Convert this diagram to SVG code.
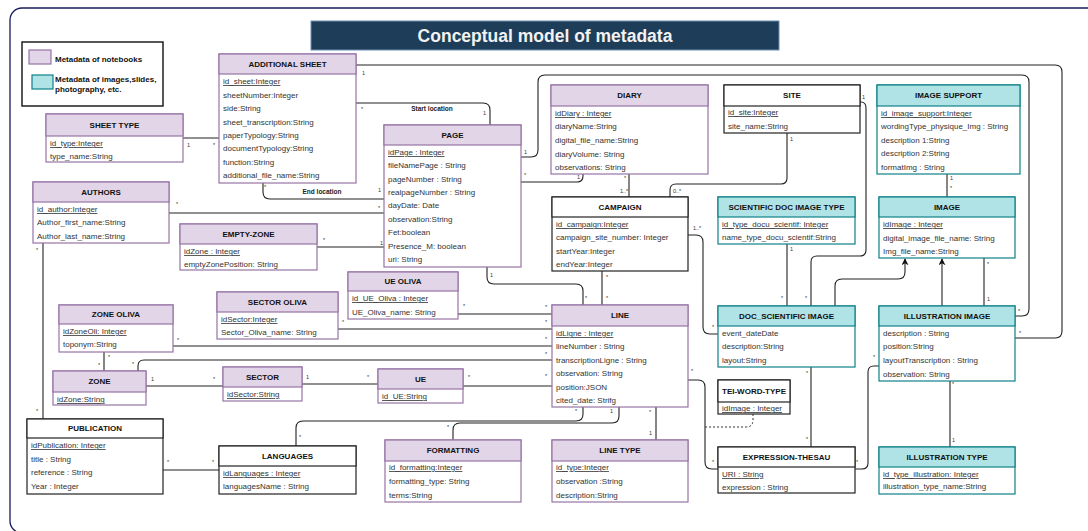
<svg xmlns="http://www.w3.org/2000/svg" width="1088" height="531" viewBox="0 0 1088 531">
<style>
text{font-family:"Liberation Sans",Arial,sans-serif;}
.h{font-size:8px;font-weight:bold;fill:#111;text-anchor:middle;}
.a{font-size:8px;fill:#333;}
.u{text-decoration:underline;}
.m{font-size:5.5px;fill:#333;}
.el{font-size:6.5px;font-weight:bold;fill:#222;text-anchor:middle;}
.pb{fill:#fff;stroke:#9673a6;stroke-width:1.2;}
.ph{fill:#e1d5e7;stroke:#9673a6;stroke-width:1.2;}
.cb{fill:#fff;stroke:#0e8088;stroke-width:1.2;}
.ch{fill:#b0e3e6;stroke:#0e8088;stroke-width:1.2;}
.wb{fill:#fff;stroke:#222;stroke-width:1.2;}
.wh{fill:#fff;stroke:#222;stroke-width:1.2;}
.c{fill:none;stroke:#222;stroke-width:1.1;}
.d{fill:none;stroke:#333;stroke-width:1;stroke-dasharray:2,2;}
</style>
<defs>
<marker id="arr" viewBox="0 0 10 10" refX="9" refY="5" markerWidth="7" markerHeight="7" markerUnits="userSpaceOnUse" orient="auto">
<path d="M0,0 L10,5 L0,10 L3,5 z" fill="#111"/>
</marker>
</defs>
<rect x="0" y="0" width="1088" height="531" fill="#fff"/>
<rect x="10" y="8" width="1092" height="525" rx="12" fill="none" stroke="#1a1a5e" stroke-width="1.3"/>
<g id="title">
<rect x="311" y="21" width="468" height="29" fill="#1e3d59" stroke="#6f8fb3" stroke-width="1"/>
<text x="545" y="42" style="font-size:17.5px;font-weight:bold;fill:#f2f2f2;text-anchor:middle">Conceptual model of metadata</text>
</g>
<g id="legend">
<rect x="22" y="42" width="141" height="64" fill="#fff" stroke="#111" stroke-width="1.4"/>
<rect x="29" y="50" width="22" height="14" class="ph"/>
<text x="55" y="62" style="font-size:8px;font-weight:bold;fill:#111">Metadata of notebooks</text>
<rect x="32" y="75" width="21" height="14" class="ch"/>
<text x="55" y="82" style="font-size:8px;font-weight:bold;fill:#111">Metadata of images,slides,</text>
<text x="55" y="92" style="font-size:8px;font-weight:bold;fill:#111">photography, etc.</text>
</g>

<g id="connectors">
<path class="c" d="M183,138 H219"/>
<path class="c" d="M356,65 H1055 Q1062,65 1062,72 V331 Q1062,338 1055,338 H1015"/>
<path class="c" d="M521,157 H531 Q538,157 538,150 V82 Q538,75 545,75 H1022 Q1029,75 1029,82 V309 Q1029,316 1022,316 H1015"/>
<path class="c" d="M356,103 H483 Q490,103 490,110 V125"/>
<path class="c" d="M263,183 V192 Q263,199 270,199 H384"/>
<path class="c" d="M169,213 H384"/>
<path class="c" d="M317,247 H384"/>
<path class="c" d="M583,174 V176 Q583,182 577,182 H521"/>
<path class="c" d="M629,174 V197"/>
<path class="c" d="M787,133 V178 Q787,184 781,184 H676 Q670,184 670,190 V197"/>
<path class="c" d="M860,102 H861 Q866,102 866,108 V250 Q866,256 860,256 H817 Q811,256 811,262 V306"/>
<path class="c" d="M787,244 V306"/>
<path class="c" d="M835,306 V286 Q835,279 842,279 H898 Q905,279 905,272 V259" marker-end="url(#arr)"/>
<path class="c" d="M942,306 V259" marker-end="url(#arr)"/>
<path class="c" d="M984,258 V306"/>
<path class="c" d="M947,174 V197"/>
<path class="c" d="M602,271 V305"/>
<path class="c" d="M487,267 V277 Q487,284 494,284 H576 Q583,284 583,291 V305"/>
<path class="c" d="M458,314 H552"/>
<path class="c" d="M338,329 H552"/>
<path class="c" d="M173,346 H552"/>
<path class="c" d="M138,371 V366 Q138,360 144,360 H552"/>
<path class="c" d="M104,352 V371"/>
<path class="c" d="M146,386 H223"/>
<path class="c" d="M302,384 H378"/>
<path class="c" d="M463,386 H552"/>
<path class="c" d="M43,243 V419"/>
<path class="c" d="M163,470 H219"/>
<path class="c" d="M296,446 V428 Q296,421 303,421 H576 Q583,421 583,414 V407"/>
<path class="c" d="M453,440 V430 Q453,423 460,423 H612 Q619,423 619,416 V407"/>
<path class="c" d="M656,407 V440"/>
<path class="c" d="M688,380 H698 Q705,380 705,387 V462 Q705,469 712,469 H718"/>
<path class="d" d="M753,414 V420 Q753,427 746,427 H705"/>
<path class="c" d="M688,235 H696 Q703,235 703,242 V327 Q703,334 710,334 H718"/>
<path class="c" d="M811,367 V447"/>
<path class="c" d="M879,366 H874 Q868,366 868,372 V463 Q868,469 862,469 H855"/>
<path class="c" d="M950,381 V447"/>
<text class="el" x="432" y="111">Start location</text>
<text class="el" x="322" y="194">End location</text>
<g class="m">
<text x="187" y="147">1</text><text x="213" y="147">*</text>
<text x="362" y="75">1</text><text x="1019" y="335">*</text>
<text x="524" y="154">1</text><text x="1018" y="313">*</text>
<text x="361" y="111">*</text><text x="483" y="115">1</text>
<text x="264" y="189">*</text><text x="378" y="192">1</text>
<text x="176" y="206">*</text><text x="378" y="210">*</text>
<text x="323" y="242">*</text><text x="380" y="245">1</text>
<text x="577" y="179">1</text><text x="524" y="177">*</text>
<text x="624" y="180">*</text><text x="620" y="193">1..*</text>
<text x="790" y="141">1</text><text x="673" y="193">0..*</text>
<text x="862" y="99">1</text><text x="805" y="300">*</text>
<text x="790" y="251">1</text><text x="781" y="300">*</text>
<text x="987" y="266">*</text><text x="987" y="301">1</text>
<text x="950" y="180">1</text><text x="950" y="190">*</text>
<text x="606" y="279">*</text><text x="606" y="300">*</text>
<text x="490" y="277">1</text><text x="585" y="300">*</text>
<text x="463" y="308">*</text><text x="545" y="309">*</text>
<text x="342" y="324">*</text><text x="545" y="324">*</text>
<text x="177" y="342">*</text><text x="545" y="341">*</text>
<text x="132" y="366">*</text><text x="545" y="356">*</text>
<text x="108" y="359">*</text><text x="98" y="367">*</text>
<text x="151" y="381">1</text><text x="213" y="381">*</text>
<text x="306" y="379">1</text><text x="367" y="379">*</text>
<text x="468" y="379">*</text><text x="545" y="378">*</text>
<text x="36" y="252">*</text><text x="36" y="413">*</text>
<text x="167" y="464">*</text><text x="212" y="464">*</text>
<text x="299" y="439">*</text><text x="575" y="413">*</text>
<text x="447" y="429">*</text><text x="610" y="413">1</text>
<text x="649" y="414">*</text><text x="649" y="435">1</text>
<text x="691" y="373">*</text><text x="712" y="464">*</text>
<text x="693" y="230">1..*</text><text x="712" y="329">*</text>
<text x="806" y="375">*</text><text x="806" y="441">*</text>
<text x="873" y="359">*</text><text x="856" y="464">*</text>
<text x="952" y="386">*</text><text x="952" y="442">1</text>
</g>
</g>

<g id="sheet-type">
<rect class="pb" x="46" y="114" width="137" height="48"/><rect class="ph" x="46" y="114" width="137" height="22"/>
<text class="h" x="114.5" y="128">SHEET TYPE</text>
<text class="a u" x="50" y="146">id_type:Integer</text>
<text class="a" x="50" y="159">type_name:String</text>
</g>
<g id="additional-sheet">
<rect class="pb" x="219" y="54" width="137" height="129"/><rect class="ph" x="219" y="54" width="137" height="20"/>
<text class="h" x="287.5" y="67">ADDITIONAL SHEET</text>
<text class="a u" x="223" y="84">id_sheet:Integer</text>
<text class="a" x="223" y="98">sheetNumber:Integer</text>
<text class="a" x="223" y="111">side:String</text>
<text class="a" x="223" y="125">sheet_transcription:String</text>
<text class="a" x="223" y="138">paperTypology:String</text>
<text class="a" x="223" y="151">documentTypology:String</text>
<text class="a" x="223" y="165">function:String</text>
<text class="a" x="223" y="178">additional_file_name:String</text>
</g>
<g id="page">
<rect class="pb" x="384" y="125" width="137" height="142"/><rect class="ph" x="384" y="125" width="137" height="20"/>
<text class="h" x="452.5" y="138">PAGE</text>
<text class="a u" x="388" y="155">idPage : Integer</text>
<text class="a" x="388" y="168">fileNamePage : String</text>
<text class="a" x="388" y="182">pageNumber : String</text>
<text class="a" x="388" y="195">realpageNumber : String</text>
<text class="a" x="388" y="208">dayDate: Date</text>
<text class="a" x="388" y="222">observation:String</text>
<text class="a" x="388" y="235">Fet:boolean</text>
<text class="a" x="388" y="249">Presence_M: boolean</text>
<text class="a" x="388" y="262">uri: String</text>
</g>
<g id="diary">
<rect class="pb" x="551" y="85" width="157" height="89"/><rect class="ph" x="551" y="85" width="157" height="21"/>
<text class="h" x="629.5" y="98">DIARY</text>
<text class="a u" x="555" y="116">idDiary : Integer</text>
<text class="a" x="555" y="129">diaryName:String</text>
<text class="a" x="555" y="143">digital_file_name:String</text>
<text class="a" x="555" y="157">diaryVolume: String</text>
<text class="a" x="555" y="170">observations: String</text>
</g>
<g id="site">
<rect class="wb" x="724" y="85" width="136" height="48"/><rect class="wh" x="724" y="85" width="136" height="21"/>
<text class="h" x="792" y="98">SITE</text>
<text class="a u" x="728" y="115">id_site:Integer</text>
<text class="a" x="728" y="129">site_name:String</text>
</g>
<g id="image-support">
<rect class="cb" x="877" y="85" width="143" height="89"/><rect class="ch" x="877" y="85" width="143" height="21"/>
<text class="h" x="948.5" y="98">IMAGE SUPPORT</text>
<text class="a u" x="881" y="116">id_image_support:Integer</text>
<text class="a" x="881" y="129">wordingType_physique_Img : String</text>
<text class="a" x="881" y="143">description 1:String</text>
<text class="a" x="881" y="156">description 2:String</text>
<text class="a" x="881" y="170">formatImg : String</text>
</g>
<g id="authors">
<rect class="pb" x="33" y="182" width="136" height="61"/><rect class="ph" x="33" y="182" width="136" height="20"/>
<text class="h" x="101" y="195">AUTHORS</text>
<text class="a u" x="37" y="212">id_author:Integer</text>
<text class="a" x="37" y="225">Author_first_name:String</text>
<text class="a" x="37" y="239">Author_last_name:String</text>
</g>
<g id="empty-zone">
<rect class="pb" x="180" y="224" width="137" height="46"/><rect class="ph" x="180" y="224" width="137" height="20"/>
<text class="h" x="248.5" y="237">EMPTY-ZONE</text>
<text class="a u" x="184" y="254">idZone : Integer</text>
<text class="a" x="184" y="267">emptyZonePosition: String</text>
</g>
<g id="campaign">
<rect class="wb" x="552" y="197" width="136" height="74"/><rect class="wh" x="552" y="197" width="136" height="20"/>
<text class="h" x="620" y="210">CAMPAIGN</text>
<text class="a u" x="556" y="227">id_campaign:Integer</text>
<text class="a" x="556" y="240">campaign_site_number: Integer</text>
<text class="a" x="556" y="254">startYear:Integer</text>
<text class="a" x="556" y="267">endYear:Integer</text>
</g>
<g id="scientific-doc-image-type">
<rect class="cb" x="718" y="197" width="137" height="47"/><rect class="ch" x="718" y="197" width="137" height="20"/>
<text class="h" x="786.5" y="210">SCIENTIFIC DOC IMAGE TYPE</text>
<text class="a u" x="722" y="227">id_type_docu_scientif: Integer</text>
<text class="a" x="722" y="240">name_type_docu_scientif:String</text>
</g>
<g id="image">
<rect class="cb" x="879" y="197" width="136" height="61"/><rect class="ch" x="879" y="197" width="136" height="20"/>
<text class="h" x="947" y="210">IMAGE</text>
<text class="a u" x="883" y="227">idImage : Integer</text>
<text class="a" x="883" y="241">digital_image_file_name: String</text>
<text class="a" x="883" y="254">Img_file_name:String</text>
</g>
<g id="ue-oliva">
<rect class="pb" x="348" y="272" width="110" height="47"/><rect class="ph" x="348" y="272" width="110" height="19"/>
<text class="h" x="403" y="284">UE OLIVA</text>
<text class="a u" x="352" y="301">id_UE_Oliva : Integer</text>
<text class="a" x="352" y="315">UE_Oliva_name: String</text>
</g>
<g id="sector-oliva">
<rect class="pb" x="217" y="292" width="121" height="47"/><rect class="ph" x="217" y="292" width="121" height="20"/>
<text class="h" x="277.5" y="305">SECTOR OLIVA</text>
<text class="a u" x="221" y="322">idSector:Integer</text>
<text class="a" x="221" y="335">Sector_Oliva_name: String</text>
</g>
<g id="zone-oliva">
<rect class="pb" x="59" y="305" width="114" height="47"/><rect class="ph" x="59" y="305" width="114" height="19"/>
<text class="h" x="116" y="317">ZONE OLIVA</text>
<text class="a u" x="63" y="334">idZoneOli: Integer</text>
<text class="a" x="63" y="347">toponym:String</text>
</g>
<g id="zone">
<rect class="pb" x="53" y="371" width="93" height="34"/><rect class="ph" x="53" y="371" width="93" height="21"/>
<text class="h" x="99.5" y="384">ZONE</text>
<text class="a u" x="57" y="402">idZone:String</text>
</g>
<g id="sector">
<rect class="pb" x="223" y="367" width="79" height="34"/><rect class="ph" x="223" y="367" width="79" height="20"/>
<text class="h" x="262.5" y="380">SECTOR</text>
<text class="a u" x="227" y="397">idSector:String</text>
</g>
<g id="ue">
<rect class="pb" x="378" y="369" width="85" height="34"/><rect class="ph" x="378" y="369" width="85" height="20"/>
<text class="h" x="420.5" y="382">UE</text>
<text class="a u" x="382" y="399">id_UE:String</text>
</g>
<g id="publication">
<rect class="wb" x="27" y="419" width="136" height="75"/><rect class="wh" x="27" y="419" width="136" height="19"/>
<text class="h" x="95" y="431">PUBLICATION</text>
<text class="a u" x="31" y="448">idPublication: Integer</text>
<text class="a" x="31" y="462">title : String</text>
<text class="a" x="31" y="475">reference : String</text>
<text class="a" x="31" y="489">Year : Integer</text>
</g>
<g id="languages">
<rect class="wb" x="219" y="446" width="137" height="48"/><rect class="wh" x="219" y="446" width="137" height="20"/>
<text class="h" x="287.5" y="459">LANGUAGES</text>
<text class="a u" x="223" y="476">idLanguages : Integer</text>
<text class="a" x="223" y="489">languagesName : String</text>
</g>
<g id="formatting">
<rect class="pb" x="385" y="440" width="136" height="62"/><rect class="ph" x="385" y="440" width="136" height="21"/>
<text class="h" x="453" y="453">FORMATTING</text>
<text class="a u" x="389" y="470">id_formatting:Integer</text>
<text class="a" x="389" y="484">formatting_type: String</text>
<text class="a" x="389" y="498">terms:String</text>
</g>
<g id="line">
<rect class="pb" x="552" y="305" width="136" height="102"/><rect class="ph" x="552" y="305" width="136" height="21"/>
<text class="h" x="620" y="318">LINE</text>
<text class="a u" x="556" y="336">idLigne :  Integer</text>
<text class="a" x="556" y="349">lineNumber : String</text>
<text class="a" x="556" y="363">transcriptionLigne : String</text>
<text class="a" x="556" y="376">observation: String</text>
<text class="a" x="556" y="390">position:JSON</text>
<text class="a" x="556" y="403">cited_date: Strifg</text>
</g>
<g id="line-type">
<rect class="pb" x="552" y="440" width="136" height="62"/><rect class="ph" x="552" y="440" width="136" height="21"/>
<text class="h" x="620" y="453">LINE TYPE</text>
<text class="a u" x="556" y="470">id_type:Integer</text>
<text class="a" x="556" y="484">observation :String</text>
<text class="a" x="556" y="498">description:String</text>
</g>
<g id="tei-word-type">
<rect class="wb" x="718" y="380" width="72" height="34"/><rect class="wh" x="718" y="380" width="72" height="22"/>
<text class="h" x="754" y="394">TEI-WORD-TYPE</text>
<text class="a u" x="722" y="411">idImage : Integer</text>
</g>
<g id="expression-thesau">
<rect class="wb" x="718" y="447" width="137" height="46"/><rect class="wh" x="718" y="447" width="137" height="20"/>
<text class="h" x="786.5" y="460">EXPRESSION-THESAU</text>
<text class="a u" x="722" y="477">URI : String</text>
<text class="a" x="722" y="490">expression : String</text>
</g>
<g id="doc-scientific-image">
<rect class="cb" x="718" y="306" width="137" height="61"/><rect class="ch" x="718" y="306" width="137" height="20"/>
<text class="h" x="786.5" y="319">DOC_SCIENTIFIC IMAGE</text>
<text class="a" x="722" y="336">event_dateDate</text>
<text class="a" x="722" y="349">description:String</text>
<text class="a" x="722" y="363">layout:String</text>
</g>
<g id="illustration-image">
<rect class="cb" x="879" y="306" width="136" height="75"/><rect class="ch" x="879" y="306" width="136" height="20"/>
<text class="h" x="947" y="319">ILLUSTRATION IMAGE</text>
<text class="a" x="883" y="336">description : String</text>
<text class="a" x="883" y="349">position:String</text>
<text class="a" x="883" y="363">layoutTranscription : String</text>
<text class="a" x="883" y="377">observation: String</text>
</g>
<g id="illustration-type">
<rect class="cb" x="879" y="447" width="136" height="47"/><rect class="ch" x="879" y="447" width="136" height="20"/>
<text class="h" x="947" y="460">ILLUSTRATION TYPE</text>
<text class="a u" x="883" y="477">id_type_illustration: Integer</text>
<text class="a" x="883" y="489">illustration_type_name:String</text>
</g>
</svg>
